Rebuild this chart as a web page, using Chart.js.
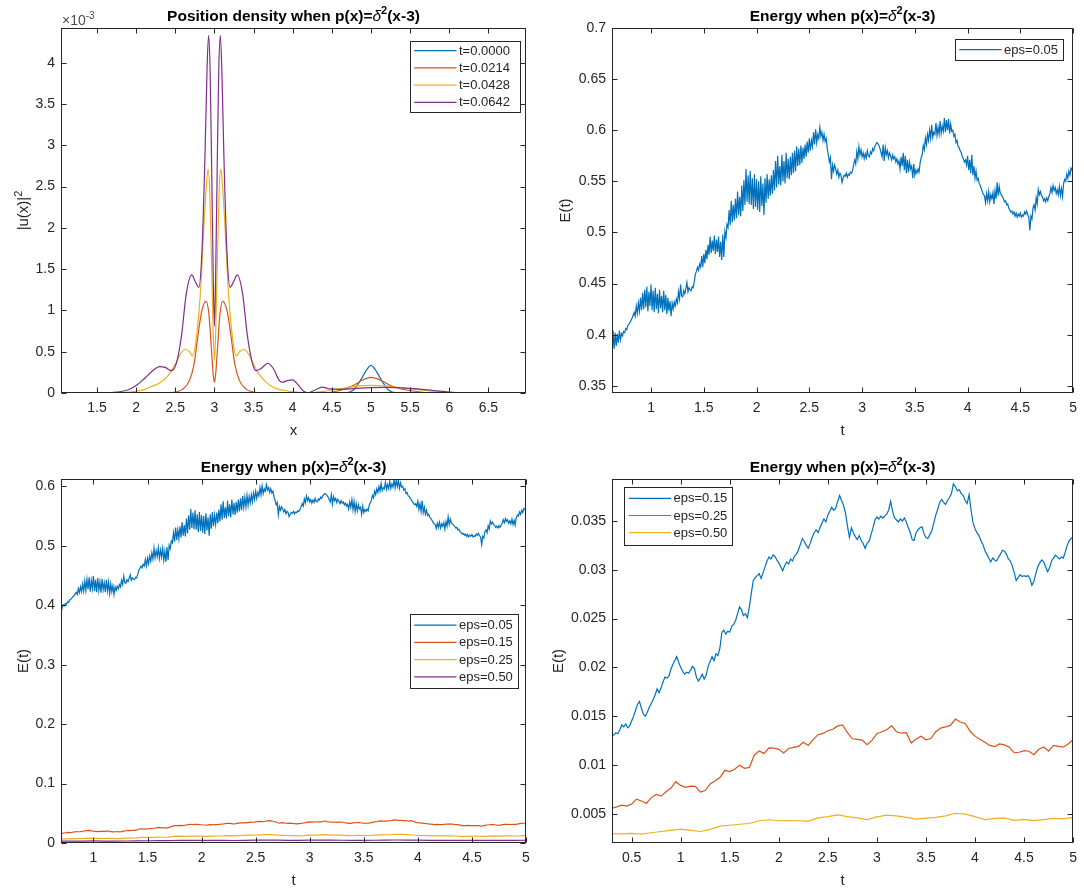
<!DOCTYPE html>
<html>
<head>
<meta charset="utf-8">
<title>Position density and energy</title>
<script src="https://cdn.jsdelivr.net/npm/chart.js@4.4.1/dist/chart.umd.min.js"></script>
<style>
  html, body { margin: 0; padding: 0; background: #fff; }
  #wrap { position: relative; width: 1084px; height: 888px; }
  #wrap canvas { position: absolute; left: 0; top: 0; }
</style>
</head>
<body>
<div id="wrap">
  <canvas id="density" width="1084" height="888"></canvas>
  <canvas id="energy05" width="1084" height="888"></canvas>
  <canvas id="energyAll" width="1084" height="888"></canvas>
  <canvas id="energyLow" width="1084" height="888"></canvas>
</div>
<script>
const PAGE_W = 1084, PAGE_H = 888;
const INK = '#262626';
const FONT = '"Liberation Sans", Arial, Helvetica, sans-serif';
const TICK = 5;
const Y_AXIS_W = 50, X_AXIS_H = 28;

const BLUE = '#0072BD', ORANGE = '#D95319', YELLOW = '#EDB120', PURPLE = '#7E2F8E';

// ---- |u(x)|^2 snapshots (values in units of 1e-3) ----
const densX0000 = [1.04, 4.6, 4.7, 4.75, 4.8, 4.85, 4.9, 4.95, 5.0, 5.05, 5.1, 5.15, 5.2, 5.25, 5.3, 5.4, 6.98];
const densY0000 = [0, 0, 0.004, 0.02, 0.06, 0.13, 0.21, 0.29, 0.336, 0.29, 0.21, 0.13, 0.06, 0.02, 0.004, 0, 0];

const densX0214 = [1.04, 2.4, 2.5, 2.6, 2.68, 2.74, 2.79, 2.84, 2.894, 2.93, 2.96, 2.985, 3.0, 3.015, 3.04, 3.07, 3.106, 3.16, 3.21, 3.26, 3.32, 3.4, 3.5, 3.6,
  4.4, 4.6, 4.75, 4.9, 5.0, 5.1, 5.25, 5.4, 5.6, 5.8, 6.98];
const densY0214 = [0, 0, 0.01, 0.05, 0.15, 0.35, 0.7, 1.0, 1.11, 0.95, 0.55, 0.22, 0.13, 0.22, 0.55, 0.95, 1.11, 1.0, 0.7, 0.35, 0.15, 0.05, 0.01, 0,
  0, 0.03, 0.08, 0.16, 0.19, 0.165, 0.09, 0.045, 0.015, 0, 0];

const densX0428 = [1.04, 1.8, 1.9, 2.0, 2.1, 2.2, 2.3, 2.4, 2.5, 2.57, 2.625, 2.68, 2.72, 2.76, 2.82, 2.87, 2.9, 2.918, 2.94, 2.965, 2.985, 3.0,
  3.015, 3.035, 3.06, 3.082, 3.1, 3.13, 3.18, 3.24, 3.28, 3.32, 3.375, 3.43, 3.5, 3.56, 3.64, 3.7, 3.8, 3.9, 4.0, 4.2,
  4.4, 4.6, 4.8, 5.0, 5.2, 5.4, 5.6, 5.8, 6.0, 6.2, 6.98];
const densY0428 = [0, 0, 0.01, 0.02, 0.04, 0.08, 0.12, 0.2, 0.35, 0.48, 0.53, 0.5, 0.45, 0.6, 1.2, 2.1, 2.55, 2.71, 2.45, 1.5, 0.7, 0.4,
  0.7, 1.5, 2.45, 2.71, 2.55, 2.1, 1.2, 0.6, 0.45, 0.5, 0.53, 0.48, 0.35, 0.24, 0.15, 0.1, 0.05, 0.03, 0.015, 0.005,
  0.02, 0.05, 0.08, 0.093, 0.085, 0.06, 0.04, 0.02, 0.006, 0, 0];

const densX0642 = [1.04, 1.6, 1.75, 1.9, 2.0, 2.1, 2.2, 2.3, 2.37, 2.45, 2.52, 2.58, 2.64, 2.71, 2.75, 2.8, 2.84, 2.88, 2.905, 2.925, 2.945, 2.965, 2.985, 3.0,
  3.015, 3.035, 3.055, 3.075, 3.095, 3.12, 3.16, 3.2, 3.25, 3.29, 3.36, 3.42, 3.48, 3.53, 3.6, 3.68, 3.75, 3.83, 3.87, 3.93, 4.0, 4.05, 4.12, 4.19,
  4.27, 4.38, 4.47, 4.6, 4.8, 5.0, 5.2, 5.5, 5.8, 6.0, 6.2, 6.98];
const densY0642 = [0, 0, 0.01, 0.04, 0.09, 0.17, 0.26, 0.32, 0.31, 0.27, 0.38, 0.7, 1.2, 1.43, 1.36, 1.28, 1.7, 2.9, 3.9, 4.33, 3.9, 2.7, 1.4, 0.81,
  1.4, 2.7, 3.9, 4.33, 3.9, 2.9, 1.7, 1.28, 1.36, 1.43, 1.2, 0.7, 0.38, 0.27, 0.3, 0.36, 0.3, 0.15, 0.13, 0.15, 0.16, 0.12, 0.04, 0,
  0.03, 0.07, 0.05, 0.045, 0.055, 0.065, 0.068, 0.055, 0.03, 0.012, 0, 0];

// ---- energy E(t), sampled from t0 with a fixed step ----
// eps = 0.05, t = 0.63 : 0.01 : 5
const energy05 = [
  0.378, 0.404, 0.386, 0.402, 0.389, 0.401, 0.392, 0.404, 0.395, 0.401,
  0.399, 0.403, 0.402, 0.406, 0.405, 0.409, 0.410, 0.412, 0.414, 0.416,
  0.419, 0.422, 0.418, 0.428, 0.421, 0.431, 0.423, 0.436, 0.424, 0.441,
  0.425, 0.444, 0.427, 0.447, 0.423, 0.442, 0.428, 0.449, 0.424, 0.443,
  0.422, 0.446, 0.425, 0.440, 0.421, 0.444, 0.426, 0.438, 0.422, 0.443,
  0.424, 0.439, 0.420, 0.436, 0.423, 0.433, 0.418, 0.431, 0.425, 0.432,
  0.428, 0.435, 0.431, 0.442, 0.435, 0.449, 0.438, 0.437, 0.443, 0.440,
  0.445, 0.451, 0.442, 0.446, 0.444, 0.443, 0.447, 0.446, 0.452, 0.459,
  0.462, 0.466, 0.463, 0.469, 0.466, 0.477, 0.466, 0.479, 0.470, 0.483,
  0.474, 0.488, 0.478, 0.496, 0.480, 0.492, 0.482, 0.497, 0.479, 0.493,
  0.481, 0.496, 0.476, 0.491, 0.473, 0.498, 0.476, 0.501, 0.495, 0.508,
  0.505, 0.522, 0.507, 0.531, 0.510, 0.527, 0.512, 0.533, 0.514, 0.540,
  0.517, 0.535, 0.516, 0.546, 0.521, 0.551, 0.527, 0.562, 0.530, 0.556,
  0.528, 0.560, 0.527, 0.553, 0.523, 0.557, 0.525, 0.552, 0.522, 0.550,
  0.520, 0.555, 0.526, 0.548, 0.517, 0.553, 0.529, 0.557, 0.533, 0.552,
  0.536, 0.556, 0.538, 0.561, 0.541, 0.570, 0.544, 0.575, 0.547, 0.565,
  0.546, 0.576, 0.550, 0.570, 0.548, 0.578, 0.553, 0.572, 0.552, 0.574,
  0.556, 0.578, 0.558, 0.580, 0.560, 0.584, 0.565, 0.582, 0.566, 0.585,
  0.568, 0.583, 0.572, 0.586, 0.574, 0.589, 0.578, 0.592, 0.580, 0.590,
  0.584, 0.598, 0.586, 0.601, 0.588, 0.596, 0.592, 0.603, 0.594, 0.598,
  0.590, 0.596, 0.589, 0.592, 0.582, 0.576, 0.569, 0.573, 0.552, 0.566,
  0.560, 0.566, 0.562, 0.557, 0.561, 0.554, 0.558, 0.556, 0.549, 0.553,
  0.556, 0.555, 0.558, 0.554, 0.557, 0.556, 0.559, 0.558, 0.561, 0.566,
  0.571, 0.567, 0.579, 0.572, 0.584, 0.576, 0.581, 0.574, 0.578, 0.572,
  0.577, 0.573, 0.580, 0.575, 0.574, 0.579, 0.577, 0.582, 0.580, 0.584,
  0.586, 0.588, 0.587, 0.585, 0.582, 0.578, 0.574, 0.586, 0.570, 0.583,
  0.576, 0.580, 0.573, 0.578, 0.575, 0.571, 0.576, 0.572, 0.574, 0.569,
  0.572, 0.567, 0.570, 0.562, 0.574, 0.565, 0.578, 0.561, 0.575, 0.558,
  0.571, 0.559, 0.569, 0.562, 0.565, 0.553, 0.567, 0.556, 0.561, 0.558,
  0.562, 0.559, 0.568, 0.573, 0.576, 0.585, 0.581, 0.592, 0.586, 0.596,
  0.590, 0.600, 0.592, 0.605, 0.593, 0.598, 0.596, 0.607, 0.595, 0.603,
  0.596, 0.609, 0.597, 0.604, 0.599, 0.612, 0.598, 0.610, 0.600, 0.611,
  0.597, 0.606, 0.599, 0.600, 0.594, 0.596, 0.588, 0.590, 0.584, 0.583,
  0.580, 0.578, 0.574, 0.572, 0.569, 0.571, 0.566, 0.575, 0.561, 0.571,
  0.558, 0.576, 0.556, 0.565, 0.553, 0.560, 0.551, 0.553, 0.548, 0.546,
  0.543, 0.540, 0.537, 0.536, 0.529, 0.538, 0.531, 0.540, 0.530, 0.537,
  0.533, 0.539, 0.528, 0.541, 0.533, 0.549, 0.536, 0.545, 0.538, 0.537,
  0.535, 0.533, 0.530, 0.531, 0.527, 0.528, 0.524, 0.522, 0.520, 0.521,
  0.518, 0.520, 0.516, 0.519, 0.515, 0.518, 0.516, 0.519, 0.515, 0.517,
  0.516, 0.520, 0.518, 0.521, 0.517, 0.515, 0.502, 0.516, 0.513, 0.524,
  0.527, 0.522, 0.534, 0.528, 0.542, 0.537, 0.540, 0.536, 0.535, 0.531,
  0.533, 0.530, 0.534, 0.531, 0.535, 0.538, 0.544, 0.539, 0.546, 0.541,
  0.544, 0.538, 0.542, 0.537, 0.545, 0.536, 0.543, 0.535, 0.548, 0.552,
  0.550, 0.557, 0.553, 0.560, 0.556, 0.563, 0.561, 0.566
];

// eps = 0.15, t = 0.3 : 0.02 : 5
const energy15 = [
  0.0129, 0.0131, 0.0133, 0.0132, 0.0136, 0.0141, 0.0139, 0.0142, 0.0138, 0.0140,
  0.0145, 0.0150, 0.0156, 0.0162, 0.0165, 0.0158, 0.0152, 0.0150, 0.0154, 0.0159,
  0.0163, 0.0167, 0.0172, 0.0178, 0.0174, 0.0179, 0.0185, 0.0190, 0.0189, 0.0191,
  0.0198, 0.0203, 0.0207, 0.0211, 0.0205, 0.0200, 0.0196, 0.0193, 0.0195, 0.0194,
  0.0197, 0.0201, 0.0199, 0.0190, 0.0186, 0.0189, 0.0193, 0.0188, 0.0192, 0.0201,
  0.0206, 0.0211, 0.0207, 0.0214, 0.0212, 0.0220, 0.0236, 0.0238, 0.0234, 0.0237,
  0.0236, 0.0242, 0.0244, 0.0248, 0.0255, 0.0262, 0.0259, 0.0253, 0.0255, 0.0251,
  0.0262, 0.0276, 0.0289, 0.0292, 0.0294, 0.0296, 0.0291, 0.0297, 0.0303, 0.0309,
  0.0313, 0.0311, 0.0315, 0.0314, 0.0310, 0.0307, 0.0303, 0.0299, 0.0304, 0.0308,
  0.0306, 0.0311, 0.0309, 0.0314, 0.0316, 0.0320, 0.0326, 0.0332, 0.0329, 0.0325,
  0.0322, 0.0327, 0.0333, 0.0338, 0.0341, 0.0338, 0.0343, 0.0348, 0.0352, 0.0349,
  0.0356, 0.0360, 0.0364, 0.0361, 0.0363, 0.0370, 0.0376, 0.0371, 0.0366, 0.0358,
  0.0345, 0.0333, 0.0343, 0.0338, 0.0334, 0.0331, 0.0335, 0.0330, 0.0327, 0.0322,
  0.0327, 0.0329, 0.0336, 0.0343, 0.0351, 0.0354, 0.0352, 0.0355, 0.0353, 0.0355,
  0.0357, 0.0361, 0.0370, 0.0360, 0.0353, 0.0351, 0.0349, 0.0352, 0.0350, 0.0353,
  0.0349, 0.0343, 0.0338, 0.0331, 0.0330, 0.0338, 0.0341, 0.0343, 0.0344, 0.0337,
  0.0333, 0.0332, 0.0336, 0.0340, 0.0348, 0.0356, 0.0362, 0.0369, 0.0372, 0.0369,
  0.0367, 0.0371, 0.0374, 0.0378, 0.0388, 0.0385, 0.0381, 0.0382, 0.0378, 0.0376,
  0.0371, 0.0368, 0.0377, 0.0361, 0.0348, 0.0342, 0.0338, 0.0335, 0.0330, 0.0326,
  0.0320, 0.0316, 0.0312, 0.0308, 0.0312, 0.0310, 0.0309, 0.0313, 0.0316, 0.0320,
  0.0319, 0.0316, 0.0311, 0.0309, 0.0304, 0.0297, 0.0289, 0.0292, 0.0295, 0.0293,
  0.0294, 0.0293, 0.0294, 0.0291, 0.0284, 0.0288, 0.0296, 0.0303, 0.0307, 0.0310,
  0.0308, 0.0303, 0.0298, 0.0302, 0.0309, 0.0312, 0.0315, 0.0313, 0.0311, 0.0313,
  0.0312, 0.0318, 0.0325, 0.0330, 0.0332, 0.0334
];

// eps = 0.25, t = 0.3 : 0.05 : 5
const energy25 = [
  0.00558, 0.00570, 0.00588, 0.00578, 0.00600, 0.00650, 0.00630, 0.00605, 0.00665, 0.00698,
  0.00680, 0.00725, 0.00760, 0.00828, 0.00790, 0.00770, 0.00782, 0.00780, 0.00722, 0.00738,
  0.00806, 0.00835, 0.00870, 0.00945, 0.00932, 0.00956, 0.00998, 0.00966, 0.00975, 0.01100,
  0.01142, 0.01118, 0.01175, 0.01172, 0.01160, 0.01122, 0.01168, 0.01180, 0.01190, 0.01232,
  0.01200, 0.01260, 0.01310, 0.01323, 0.01350, 0.01365, 0.01400, 0.01410, 0.01330, 0.01268,
  0.01262, 0.01255, 0.01208, 0.01252, 0.01320, 0.01340, 0.01360, 0.01400, 0.01340, 0.01325,
  0.01330, 0.01225, 0.01265, 0.01295, 0.01258, 0.01270, 0.01340, 0.01378, 0.01390, 0.01405,
  0.01470, 0.01440, 0.01425, 0.01345, 0.01295, 0.01262, 0.01232, 0.01200, 0.01188, 0.01215,
  0.01205, 0.01182, 0.01125, 0.01130, 0.01146, 0.01140, 0.01105, 0.01160, 0.01185, 0.01142,
  0.01200, 0.01190, 0.01182, 0.01215, 0.01262
];

// eps = 0.50, t = 0.3 : 0.1 : 5
const energy50 = [
  0.00296, 0.00294, 0.00298, 0.00290, 0.00305, 0.00318, 0.00330, 0.00342, 0.00330, 0.00318,
  0.00340, 0.00372, 0.00382, 0.00392, 0.00400, 0.00428, 0.00438, 0.00428, 0.00430, 0.00428,
  0.00424, 0.00458, 0.00470, 0.00488, 0.00470, 0.00458, 0.00440, 0.00468, 0.00485, 0.00478,
  0.00462, 0.00445, 0.00455, 0.00462, 0.00478, 0.00505, 0.00495, 0.00470, 0.00440, 0.00452,
  0.00458, 0.00432, 0.00442, 0.00430, 0.00440, 0.00452, 0.00448, 0.00462
];

// tick labels
const densXTicks = ['1.5', '2', '2.5', '3', '3.5', '4', '4.5', '5', '5.5', '6', '6.5'];
const densYTicks = ['0', '0.5', '1', '1.5', '2', '2.5', '3', '3.5', '4'];
const tTicks = ['1', '1.5', '2', '2.5', '3', '3.5', '4', '4.5', '5'];
const tTicksLow = ['0.5', '1', '1.5', '2', '2.5', '3', '3.5', '4', '4.5', '5'];
const e05YTicks = ['0.35', '0.4', '0.45', '0.5', '0.55', '0.6', '0.65', '0.7'];
const eAllYTicks = ['0', '0.1', '0.2', '0.3', '0.4', '0.5', '0.6'];
const eLowYTicks = ['0.005', '0.01', '0.015', '0.02', '0.025', '0.03', '0.035'];

const timeGrid = (t0, dt, n) => Array.from({ length: n }, (_, i) => +(t0 + i * dt).toFixed(3));
const pairs = (xs, ys) => ys.map((y, i) => ({ x: xs[i], y }));

const t05 = timeGrid(0.63, 0.01, energy05.length);
const t15 = timeGrid(0.3, 0.02, energy15.length);
const t25 = timeGrid(0.3, 0.05, energy25.length);
const t50 = timeGrid(0.3, 0.1, energy50.length);

// axes boxes on the page
const frames = {
  density:   { left: 61,  top: 28,  right: 526,  bottom: 393 },
  energy05:  { left: 612, top: 28,  right: 1076, bottom: 393 },
  energyAll: { left: 61,  top: 479, right: 526,  bottom: 843 },
  energyLow: { left: 612, top: 479, right: 1076, bottom: 843 }
};

const titleParts = lead => [{ text: lead }, { text: 'δ', it: true, normal: true }, { text: '2', sup: true }, { text: '(x-3)' }];

const decor = {
  density: {
    title: titleParts('Position density when p(x)='), xlabel: 'x',
    ylabel: [{ text: '|u(x)|' }, { text: '2', sup: true }], ylabelGap: 38.5,
    exponent: [{ text: '×10' }, { text: '-3', sup: true }],
    legend: { side: 'right', gx: 6.5, gy: 13, w: 110, h: 71 }
  },
  energy05: {
    title: titleParts('Energy when p(x)='), xlabel: 't', ylabel: [{ text: 'E(t)' }], ylabelGap: 48,
    legend: { side: 'right', gx: 11, gy: 11.3, w: 107.5, h: 20.5 }
  },
  energyAll: {
    title: titleParts('Energy when p(x)='), xlabel: 't', ylabel: [{ text: 'E(t)' }], ylabelGap: 38.5,
    legend: { side: 'right', gx: 8.5, gy: 135, w: 108, h: 74 }
  },
  energyLow: {
    title: titleParts('Energy when p(x)='), xlabel: 't', ylabel: [{ text: 'E(t)' }], ylabelGap: 55,
    legend: { side: 'left', gx: 12, gy: 7.7, w: 107.5, h: 57.6 }
  }
};

// text made of plain, italic and superscript pieces, drawn on a baseline
function richText(ctx, parts, x, y, size, weight, align) {
  const fontOf = p => `${p.it ? 'italic ' : ''}${p.normal ? 'normal' : weight} ${p.sup ? Math.round(size * 0.72) : size}px ${FONT}`;
  let total = 0;
  const widths = parts.map(p => { ctx.font = fontOf(p); const w = ctx.measureText(p.text).width; total += w; return w; });
  let cx = align === 'center' ? x - total / 2 : x;
  ctx.textAlign = 'left';
  ctx.textBaseline = 'alphabetic';
  parts.forEach((p, i) => {
    ctx.font = fontOf(p);
    ctx.fillText(p.text, cx, p.sup ? y - size * 0.42 : y);
    cx += widths[i];
  });
}

function drawLegend(chart, ctx, spec) {
  const a = chart.chartArea;
  const x0 = spec.side === 'left' ? a.left + spec.gx : a.right - spec.gx - spec.w;
  const y0 = a.top + spec.gy;
  const sets = chart.data.datasets;
  const rowH = 17.2;
  const first = y0 + (spec.h - (sets.length - 1) * rowH) / 2;
  ctx.fillStyle = '#fff';
  ctx.fillRect(x0, y0, spec.w, spec.h);
  ctx.strokeStyle = INK;
  ctx.lineWidth = 1;
  ctx.strokeRect(Math.round(x0) + 0.5, Math.round(y0) + 0.5, Math.round(spec.w), Math.round(spec.h));
  ctx.font = `13px ${FONT}`;
  ctx.textAlign = 'left';
  ctx.textBaseline = 'middle';
  sets.forEach((d, i) => {
    const yy = first + i * rowH;
    ctx.strokeStyle = d.borderColor;
    ctx.lineWidth = 1.2;
    ctx.beginPath();
    ctx.moveTo(x0 + 4.7, yy);
    ctx.lineTo(x0 + 47, yy);
    ctx.stroke();
    ctx.fillStyle = INK;
    ctx.fillText(d.label, x0 + 49.5, yy + 0.5);
  });
}

// MATLAB-like frame: full box, inward ticks on all sides, titles and legend
const matlabAxes = {
  id: 'matlabAxes',
  afterDraw(chart) {
    const d = decor[chart.canvas.id];
    const ctx = chart.ctx;
    const a = chart.chartArea;
    const xs = chart.scales.x, ys = chart.scales.y;
    const L = Math.round(a.left) + 0.5, R = Math.round(a.right) - 0.5;
    const T = Math.round(a.top) + 0.5, B = Math.round(a.bottom) - 0.5;
    ctx.save();
    ctx.strokeStyle = INK;
    ctx.lineWidth = 1;
    ctx.strokeRect(L, T, R - L, B - T);
    ctx.beginPath();
    xs.ticks.forEach(t => {
      const p = Math.round(xs.getPixelForValue(t.value)) + 0.5;
      ctx.moveTo(p, B); ctx.lineTo(p, B - TICK);
      ctx.moveTo(p, T); ctx.lineTo(p, T + TICK);
    });
    ys.ticks.forEach(t => {
      const p = Math.round(ys.getPixelForValue(t.value)) + 0.5;
      ctx.moveTo(L, p); ctx.lineTo(L + TICK, p);
      ctx.moveTo(R, p); ctx.lineTo(R - TICK, p);
    });
    ctx.stroke();

    drawLegend(chart, ctx, d.legend);

    const cx = (a.left + a.right) / 2;
    ctx.fillStyle = '#000';
    richText(ctx, d.title, cx, a.top - 7.5, 15.5, 'bold', 'center');
    ctx.fillStyle = INK;
    richText(ctx, [{ text: d.xlabel }], cx, a.bottom + 42, 15, 'normal', 'center');

    ctx.save();
    ctx.translate(a.left - d.ylabelGap, (a.top + a.bottom) / 2);
    ctx.rotate(-Math.PI / 2);
    richText(ctx, d.ylabel, 0, 5.5, 15, 'normal', 'center');
    ctx.restore();

    if (d.exponent) {
      ctx.fillStyle = '#4a4a4a';
      richText(ctx, d.exponent, a.left + 1, a.top - 3.5, 14, 'normal', 'left');
    }
    ctx.restore();
  }
};

function axis(kind, min, max, labels) {
  const values = labels.map(Number);
  return {
    type: 'linear', min, max,
    grid: { display: false, drawTicks: false },
    border: { display: false },
    afterBuildTicks: s => { s.ticks = values.map(v => ({ value: v })); },
    afterFit: s => { if (kind === 'x') s.height = X_AXIS_H; else s.width = Y_AXIS_W; },
    ticks: {
      autoSkip: false, maxRotation: 0, minRotation: 0,
      padding: kind === 'x' ? 7 : 6,
      color: INK,
      font: { family: FONT, size: 14 },
      callback: (v, i) => labels[i]
    }
  };
}

function series(label, color, xs, ys, order, smooth) {
  return {
    label, data: pairs(xs, ys), borderColor: color, backgroundColor: color,
    borderWidth: 1.2, pointRadius: 0, fill: false, order,
    tension: smooth ? 0.4 : 0,
    cubicInterpolationMode: smooth ? 'monotone' : 'default'
  };
}

function makeChart(id, xr, yr, datasets) {
  const f = frames[id];
  return new Chart(document.getElementById(id), {
    type: 'line',
    data: { datasets },
    options: {
      responsive: false, animation: false, devicePixelRatio: 1,
      layout: {
        padding: {
          left: f.left - Y_AXIS_W, top: f.top,
          right: PAGE_W - f.right, bottom: PAGE_H - f.bottom - X_AXIS_H
        }
      },
      plugins: { legend: { display: false }, tooltip: { enabled: false }, title: { display: false } },
      scales: { x: axis('x', xr[0], xr[1], xr[2]), y: axis('y', yr[0], yr[1], yr[2]) }
    },
    plugins: [matlabAxes]
  });
}

makeChart('density', [1.04, 6.98, densXTicks], [0, 4.42, densYTicks], [
  series('t=0.0000', BLUE, densX0000, densY0000, 4, true),
  series('t=0.0214', ORANGE, densX0214, densY0214, 3, true),
  series('t=0.0428', YELLOW, densX0428, densY0428, 2, true),
  series('t=0.0642', PURPLE, densX0642, densY0642, 1, true)
]);

makeChart('energy05', [0.63, 5, tTicks], [0.343, 0.7, e05YTicks], [
  series('eps=0.05', BLUE, t05, energy05, 1, false)
]);

makeChart('energyAll', [0.7, 5, tTicks], [0, 0.6125, eAllYTicks], [
  series('eps=0.05', BLUE, t05, energy05, 4, false),
  series('eps=0.15', ORANGE, t15, energy15, 3, false),
  series('eps=0.25', YELLOW, t25, energy25, 2, false),
  series('eps=0.50', PURPLE, t50, energy50, 1, false)
]);

makeChart('energyLow', [0.3, 5, tTicksLow], [0.002, 0.0393, eLowYTicks], [
  series('eps=0.15', BLUE, t15, energy15, 3, false),
  series('eps=0.25', ORANGE, t25, energy25, 2, false),
  series('eps=0.50', YELLOW, t50, energy50, 1, false)
]);
</script>
</body>
</html>
